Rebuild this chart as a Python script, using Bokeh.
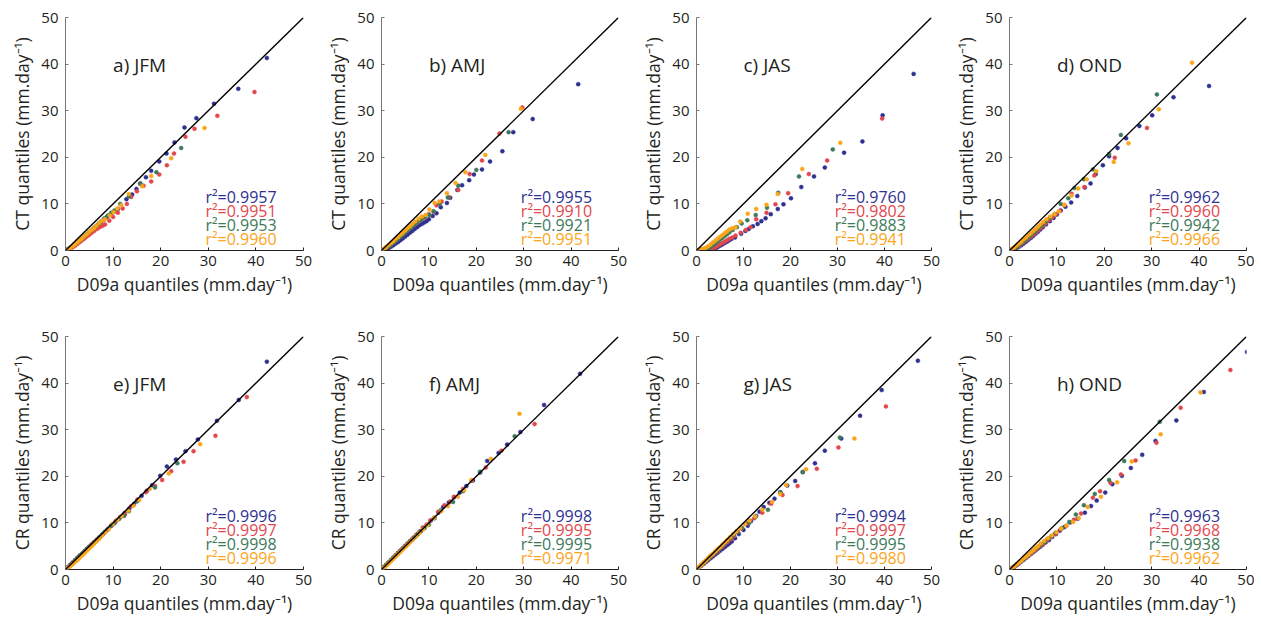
from bokeh.plotting import figure
from bokeh.layouts import row, column
from bokeh.models import Range1d, Slope, FixedTicker, ColumnDataSource
from bokeh.embed import file_html
from bokeh.resources import INLINE
from bokeh.core.properties import value

# ---------------- data ----------------
series_names = ["blue", "red", "green", "orange"]
series_colors = ["#2e3192", "#e2474d", "#3d7a5a", "#fba51b"]

panel_titles = ["a) JFM", "b) AMJ", "c) JAS", "d) OND", "e) JFM", "f) AMJ", "g) JAS", "h) OND"]
y_labels = ["CT quantiles (mm.day⁻¹)"] * 4 + ["CR quantiles (mm.day⁻¹)"] * 4
x_label = "D09a quantiles (mm.day⁻¹)"
tick_values = [0, 10, 20, 30, 40, 50]

r2_a = [0.9957, 0.9951, 0.9953, 0.9960]
r2_b = [0.9955, 0.9910, 0.9921, 0.9951]
r2_c = [0.9760, 0.9802, 0.9883, 0.9941]
r2_d = [0.9962, 0.9960, 0.9942, 0.9966]
r2_e = [0.9996, 0.9997, 0.9998, 0.9996]
r2_f = [0.9998, 0.9995, 0.9995, 0.9971]
r2_g = [0.9994, 0.9997, 0.9995, 0.9980]
r2_h = [0.9963, 0.9968, 0.9938, 0.9962]

# panel a (JFM, CT)
a_blue_x = [0, 0.5, 1, 1.5, 2, 2.5, 3, 3.5, 4, 4.5, 5, 5.5, 6, 6.5, 7, 7.5, 8, 8.7, 9.4, 10.2, 11.0, 12.8, 14.0, 14.9, 15.7, 16.9, 18.0, 19.7, 21.2, 22.9, 25.0, 27.5, 31.2, 36.3, 42.3]
a_blue_y = [0, 0.2, 0.5, 0.8, 1.2, 1.6, 2.0, 2.4, 2.9, 3.3, 3.7, 4.1, 4.6, 5.1, 5.6, 6.1, 6.6, 7.2, 7.7, 8.3, 8.9, 11.0, 12.0, 13.2, 14.4, 15.7, 17.1, 19.1, 20.8, 23.2, 26.4, 28.4, 31.5, 34.7, 41.3]
a_red_x = [0, 0.5, 1, 1.5, 2, 2.5, 3, 3.5, 4, 4.5, 5, 5.5, 6, 6.6, 7.2, 7.8, 8.3, 9.2, 10.0, 11.0, 12.0, 12.9, 13.8, 15.0, 16.4, 18.0, 19.7, 21.3, 22.8, 25.2, 27.1, 31.9, 39.7]
a_red_y = [0, 0.2, 0.4, 0.7, 1.0, 1.4, 1.8, 2.2, 2.6, 3.0, 3.4, 3.8, 4.2, 4.6, 5.0, 5.3, 5.6, 6.4, 7.2, 8.1, 9.0, 10.0, 11.5, 12.7, 13.9, 14.8, 16.3, 18.3, 20.8, 24.4, 26.1, 28.9, 34.0]
a_green_x = [0, 0.5, 1, 1.5, 2, 2.5, 3, 3.5, 4, 4.5, 5, 5.5, 6, 6.5, 7, 7.6, 8.2, 8.9, 9.6, 10.3, 11.5, 13.3, 15.7, 19.1, 24.3]
a_green_y = [0, 0.3, 0.6, 0.9, 1.3, 1.7, 2.2, 2.6, 3.1, 3.5, 4.0, 4.4, 4.9, 5.3, 5.8, 6.3, 6.9, 7.5, 8.1, 8.6, 10.0, 11.6, 14.3, 16.8, 22.0]
a_orange_x = [0, 0.3, 0.6, 1, 1.5, 2, 2.5, 3, 3.5, 4, 4.5, 5, 5.5, 6, 6.5, 7.1, 7.7, 8.3, 9.3, 10.1, 10.9, 11.7, 13.3, 16.1, 18.0, 22.2, 29.2]
a_orange_y = [0, 0.1, 0.3, 0.5, 0.9, 1.3, 1.7, 2.2, 2.6, 3.1, 3.5, 4.0, 4.4, 4.8, 5.3, 5.9, 6.4, 6.7, 7.5, 8.2, 9.0, 9.7, 12.1, 13.8, 16.0, 19.8, 26.3]

# panel b (AMJ, CT)
b_blue_x = [0, 0.5, 1, 1.5, 2, 2.5, 3, 3.5, 4, 4.5, 5, 5.5, 6, 6.5, 7, 7.5, 8, 8.5, 9, 9.5, 10, 10.8, 11.6, 12.5, 13.8, 14.5, 16.0, 17.0, 18.5, 19.5, 21.2, 22.9, 25.5, 27.8, 31.9, 41.5]
b_blue_y = [0, 0.1, 0.3, 0.5, 0.8, 1.1, 1.5, 1.8, 2.2, 2.6, 3.0, 3.4, 3.8, 4.2, 4.6, 5.0, 5.4, 5.7, 6.0, 6.3, 6.7, 7.4, 8.0, 9.3, 10.2, 11.3, 13.0, 14.0, 15.1, 16.3, 17.4, 19.1, 21.3, 25.4, 28.2, 35.7]
b_red_x = [0, 0.5, 1, 1.5, 2, 2.5, 3, 3.5, 4, 4.5, 5, 5.5, 6, 6.5, 7, 7.5, 8.2, 9, 10, 11, 11.6, 12.7, 14.2, 16.2, 18.6, 21.2, 24.9, 29.7]
b_red_y = [0, 0.2, 0.5, 0.9, 1.3, 1.7, 2.2, 2.6, 3.0, 3.5, 3.9, 4.3, 4.8, 5.2, 5.6, 6.0, 6.5, 7.0, 7.8, 8.3, 9.7, 10.5, 11.4, 13.0, 16.4, 19.3, 25.1, 30.7]
b_green_x = [0, 0.5, 1, 1.5, 2, 2.5, 3, 3.5, 4, 4.5, 5, 5.5, 6, 6.5, 7, 7.6, 8.4, 9.2, 10.1, 11, 12.3, 14, 16.2, 20, 26.8]
b_green_y = [0, 0.2, 0.5, 0.9, 1.3, 1.7, 2.1, 2.5, 3.0, 3.4, 3.9, 4.3, 4.7, 5.2, 5.6, 6.1, 6.6, 7.2, 7.6, 8.4, 10.0, 11.4, 13.9, 17.3, 25.4]
b_orange_x = [0, 0.3, 0.7, 1, 1.5, 2, 2.5, 3, 3.5, 4, 4.5, 5, 5.5, 6, 6.5, 7.1, 7.8, 8.5, 9.3, 10.1, 11.2, 12.2, 13.8, 15.6, 17.7, 21.9, 29.4]
b_orange_y = [0, 0.2, 0.5, 0.8, 1.2, 1.6, 2.0, 2.5, 2.9, 3.4, 3.8, 4.3, 4.8, 5.2, 5.7, 6.2, 6.8, 7.3, 7.6, 8.8, 10.2, 10.5, 12.3, 14.5, 16.8, 20.5, 30.4]

# panel c (JAS, CT)
c_blue_x = [0, 0.5, 1, 1.5, 2, 2.5, 3, 3.5, 4, 4.5, 5, 5.5, 6, 6.5, 7, 7.5, 8.2, 9.5, 10.4, 11.1, 12, 13, 13.8, 14.7, 15.8, 17.3, 18.5, 20.1, 22.3, 25.0, 27.3, 31.4, 35.3, 39.6, 46.2]
c_blue_y = [0, 0.1, 0.1, 0.2, 0.2, 0.3, 0.3, 0.4, 0.5, 0.7, 1.0, 1.3, 1.6, 1.9, 2.2, 2.5, 2.8, 3.6, 4.2, 4.6, 5.2, 5.7, 6.3, 6.9, 7.8, 8.9, 9.9, 11.2, 13.6, 15.9, 17.8, 21.0, 23.4, 29.0, 37.9]
c_red_x = [0, 1, 2, 3, 3.5, 4, 4.5, 5, 5.5, 6, 6.5, 7, 7.6, 8.3, 9.4, 10.5, 11.5, 12.7, 14.9, 16.8, 19.5, 23.9, 27.8, 39.5]
c_red_y = [0, 0.1, 0.2, 0.3, 0.5, 0.7, 1.0, 1.3, 1.6, 1.9, 2.2, 2.5, 2.8, 3.2, 3.8, 4.4, 5.0, 6.7, 8.1, 9.9, 12.3, 16.4, 19.3, 28.3]
c_green_x = [0, 1, 1.5, 2, 2.5, 3, 3.5, 4, 4.5, 5, 5.5, 6, 6.5, 7, 7.7, 8.6, 9.6, 10.8, 12.6, 15, 17.4, 21.8, 29.0]
c_green_y = [0, 0.1, 0.2, 0.3, 0.5, 0.8, 1.1, 1.5, 1.9, 2.3, 2.7, 3.1, 3.5, 3.9, 4.4, 5.0, 5.8, 6.5, 7.6, 9.2, 12.4, 15.9, 21.7]
c_orange_x = [0, 0.5, 1, 1.5, 2, 2.5, 3, 3.5, 4, 4.5, 5, 5.5, 6, 6.5, 7, 7.6, 8.3, 9.3, 10.9, 12.7, 14.9, 17.3, 22.5, 30.6]
c_orange_y = [0, 0.1, 0.2, 0.4, 0.6, 0.9, 1.3, 1.7, 2.1, 2.5, 2.9, 3.3, 3.7, 4.1, 4.5, 4.8, 5.0, 6.2, 7.9, 8.9, 9.8, 12.1, 17.5, 23.1]

# panel d (OND, CT)
d_blue_x = [0, 0.5, 1, 1.5, 2, 2.5, 3, 3.5, 4, 4.5, 5, 5.5, 6, 6.5, 7, 7.7, 8.5, 9.3, 10, 10.8, 11.8, 13, 14.3, 15.9, 17.1, 18.2, 19.7, 21.0, 22.8, 24.6, 27.4, 30.1, 34.6, 42.1]
d_blue_y = [0, 0.1, 0.3, 0.5, 0.8, 1.1, 1.5, 1.9, 2.3, 2.7, 3.1, 3.6, 4.0, 4.5, 5.0, 5.6, 6.3, 7.0, 7.7, 8.6, 9.4, 10.3, 11.7, 13.5, 14.4, 16.4, 18.3, 20.2, 22.0, 24.1, 26.7, 29.0, 32.9, 35.3]
d_red_x = [0, 0.5, 1, 1.5, 2, 2.5, 3, 3.5, 4, 4.5, 5, 5.5, 6, 6.5, 7, 7.6, 8.3, 9, 9.8, 10.6, 11.6, 13.1, 15.8, 17.9, 22.2, 29.0]
d_red_y = [0, 0.2, 0.4, 0.7, 1.0, 1.4, 1.8, 2.2, 2.6, 3.0, 3.4, 3.9, 4.3, 4.8, 5.3, 5.8, 6.5, 7.1, 7.8, 8.5, 9.7, 12.2, 13.6, 16.1, 19.9, 26.3]
d_green_x = [0, 0.5, 1, 1.5, 2, 2.5, 3, 3.5, 4, 4.5, 5, 5.5, 6, 6.5, 7, 7.7, 8.5, 9.5, 10.8, 12.4, 13.7, 15.7, 17.6, 21.0, 23.5, 31.1]
d_green_y = [0, 0.2, 0.5, 0.8, 1.2, 1.6, 2.0, 2.4, 2.9, 3.3, 3.8, 4.2, 4.7, 5.2, 5.6, 6.3, 7.0, 7.8, 10.0, 11.2, 13.4, 15.3, 17.4, 20.7, 24.8, 33.5]
d_orange_x = [0, 0.3, 0.6, 1, 1.5, 2, 2.5, 3, 3.5, 4, 4.5, 5, 5.5, 6, 6.5, 7.1, 7.8, 8.6, 9.5, 10.4, 11.6, 13.1, 14.5, 16.3, 18.3, 22.0, 25.1, 31.5, 38.5]
d_orange_y = [0, 0.2, 0.4, 0.7, 1.1, 1.5, 1.9, 2.4, 2.8, 3.3, 3.7, 4.2, 4.6, 5.1, 5.6, 6.1, 6.7, 7.3, 7.8, 8.4, 9.8, 11.8, 13.3, 15.3, 17.0, 19.0, 23.0, 30.3, 40.3]

# panel e (JFM, CR)
e_blue_x = [0, 0.5, 1, 1.5, 2, 2.5, 3, 3.5, 4, 4.5, 5, 5.5, 6, 6.5, 7, 7.6, 8.3, 9, 9.8, 10.6, 11.5, 12.4, 13.4, 14.4, 15.2, 16.0, 17.1, 18.2, 19.9, 21.3, 23.2, 25.2, 27.8, 31.8, 36.4, 42.3]
e_blue_y = [0, 0.5, 1.0, 1.5, 2.0, 2.5, 3.0, 3.4, 3.9, 4.4, 4.9, 5.3, 5.8, 6.3, 6.8, 7.4, 8.1, 8.8, 9.6, 10.4, 11.2, 12.1, 13.1, 14.1, 14.8, 15.8, 16.9, 18.1, 20.1, 22.1, 23.6, 25.4, 27.9, 31.9, 36.4, 44.6]
e_red_x = [0, 0.5, 1, 1.5, 2, 2.5, 3, 3.5, 4, 4.5, 5, 5.5, 6, 6.6, 7.3, 8, 8.8, 9.6, 10.5, 11.5, 12.5, 13.8, 15.1, 16.9, 18.8, 20.3, 22.2, 24.8, 26.9, 31.5, 38.1]
e_red_y = [0, 0.4, 0.9, 1.4, 1.9, 2.4, 2.9, 3.4, 3.9, 4.4, 4.9, 5.4, 5.9, 6.4, 7.0, 7.7, 8.5, 9.4, 10.3, 11.2, 11.8, 13.6, 15.0, 16.6, 17.9, 19.2, 21.1, 23.1, 25.4, 28.7, 37.0]
e_green_x = [0, 0.5, 1, 1.5, 2, 2.5, 3, 3.5, 4, 4.5, 5, 5.5, 6, 6.6, 7.2, 7.9, 8.7, 9.5, 10.3, 11.2, 12.3, 13.3, 15.0, 18.8, 23.5]
e_green_y = [0, 0.4, 0.9, 1.4, 1.9, 2.4, 2.9, 3.4, 3.9, 4.4, 4.8, 5.3, 5.8, 6.4, 7.0, 7.7, 8.5, 9.3, 9.9, 10.8, 11.5, 12.5, 14.6, 17.6, 22.8]
e_orange_x = [0, 0.3, 0.6, 1, 1.5, 2, 2.5, 3, 3.5, 4, 4.5, 5, 5.5, 6, 6.5, 7.1, 7.7, 8.4, 9.1, 9.9, 10.9, 11.8, 13.2, 14.3, 15.5, 17.7, 21.7, 28.3]
e_orange_y = [0, 0.2, 0.4, 0.7, 1.1, 1.6, 2.0, 2.5, 3.0, 3.5, 4.0, 4.5, 5.0, 5.5, 6.0, 6.6, 7.3, 8.0, 8.7, 9.8, 10.7, 11.5, 12.6, 13.7, 14.9, 17.3, 20.6, 26.9]

# panel f (AMJ, CR)
f_blue_x = [0, 0.5, 1, 1.5, 2, 2.5, 3, 3.5, 4, 4.5, 5, 5.5, 6, 6.5, 7, 7.6, 8.2, 8.9, 9.6, 10.4, 11.1, 12.0, 13.0, 14.2, 15.3, 16.5, 17.9, 19.3, 20.8, 22.3, 24.7, 26.5, 29.3, 34.3, 41.9]
f_blue_y = [0, 0.5, 1.0, 1.5, 2.0, 2.5, 3.0, 3.5, 4.0, 4.5, 5.0, 5.5, 6.0, 6.5, 7.0, 7.6, 8.2, 8.9, 9.6, 10.5, 11.1, 12.2, 13.4, 14.4, 15.5, 16.5, 17.9, 19.1, 20.8, 23.3, 25.0, 26.8, 29.5, 35.3, 42.0]
f_red_x = [0, 0.5, 1, 1.5, 2, 2.5, 3, 3.5, 4, 4.5, 5, 5.5, 6, 6.6, 7.3, 8.0, 8.7, 9.5, 10.3, 12.0, 13.3, 14.5, 15.3, 17.2, 19.0, 22.0, 25.3, 32.3]
f_red_y = [0, 0.5, 1.0, 1.5, 2.0, 2.6, 3.1, 3.6, 4.1, 4.6, 5.1, 5.6, 6.1, 6.7, 7.4, 8.1, 9.0, 9.6, 10.5, 12.4, 13.8, 14.6, 15.6, 17.3, 19.1, 21.9, 25.5, 31.2]
f_green_x = [0, 0.5, 1, 1.5, 2, 2.5, 3, 3.5, 4, 4.5, 5, 5.5, 6, 6.5, 7, 7.6, 8.3, 9.1, 10.0, 11.2, 12.5, 15.1, 17.2, 20.8, 28.1]
f_green_y = [0, 0.5, 1.0, 1.5, 2.0, 2.5, 3.0, 3.5, 4.0, 4.5, 5.0, 5.5, 6.0, 6.4, 6.9, 7.5, 8.2, 8.9, 9.6, 11.0, 12.7, 14.5, 16.8, 21.0, 28.6]
f_orange_x = [0, 0.4, 0.8, 1.2, 1.6, 2, 2.5, 3, 3.5, 4, 4.5, 5, 5.5, 6, 6.6, 7.3, 8.0, 8.8, 9.7, 11.1, 12.6, 14.0, 16.1, 17.4, 19.0, 23.1, 29.1]
f_orange_y = [0, 0.3, 0.6, 1.0, 1.4, 1.8, 2.3, 2.8, 3.3, 3.8, 4.3, 4.8, 5.3, 5.8, 6.4, 7.1, 7.8, 8.6, 9.5, 11.1, 12.5, 13.6, 15.6, 17.0, 19.2, 23.7, 33.4]

# panel g (JAS, CR)
g_blue_x = [0, 0.5, 1, 1.5, 2, 2.5, 3, 3.5, 4, 4.5, 5, 5.5, 6, 6.5, 7, 7.5, 8.2, 9, 10, 10.9, 11.6, 12.7, 13.4, 14.3, 15.5, 16.6, 17.8, 19.3, 21.0, 22.6, 25.2, 27.3, 30.8, 34.8, 39.4, 47.1]
g_blue_y = [0, 0.4, 0.8, 1.2, 1.6, 2.0, 2.4, 2.8, 3.2, 3.6, 4.0, 4.4, 4.8, 5.2, 5.6, 6.0, 6.7, 7.6, 8.5, 9.4, 10.4, 11.5, 12.4, 13.4, 14.3, 15.2, 16.6, 18.0, 19.0, 20.9, 22.8, 25.5, 28.1, 33.0, 38.5, 44.8]
g_red_x = [0, 0.5, 1, 1.5, 2, 2.5, 3, 3.5, 4, 4.5, 5, 5.5, 6, 6.6, 7.3, 8, 8.8, 9.6, 10.8, 12.3, 14.0, 15.9, 18.3, 21.5, 25.6, 30.2, 40.3]
g_red_y = [0, 0.4, 0.9, 1.3, 1.8, 2.2, 2.7, 3.1, 3.6, 4.0, 4.5, 4.9, 5.4, 5.9, 6.5, 7.2, 8.1, 8.8, 9.9, 11.0, 12.2, 14.1, 16.0, 17.9, 21.6, 26.2, 35.0]
g_green_x = [0, 0.5, 1, 1.5, 2, 2.5, 3, 3.5, 4, 4.5, 5, 5.5, 6, 6.6, 7.2, 7.9, 8.7, 9.7, 11.2, 12.5, 15.2, 17.9, 22.6, 30.5]
g_green_y = [0, 0.4, 0.9, 1.4, 1.8, 2.3, 2.8, 3.2, 3.7, 4.2, 4.6, 5.1, 5.6, 6.2, 6.8, 7.4, 8.1, 8.9, 10.0, 11.3, 12.8, 16.5, 20.9, 28.3]
g_orange_x = [0, 0.4, 0.8, 1.2, 1.6, 2, 2.5, 3, 3.5, 4, 4.5, 5, 5.5, 6, 6.5, 7.1, 7.8, 8.5, 9.3, 10.3, 11.3, 12.5, 14.0, 16.1, 17.8, 19.1, 23.3, 33.6]
g_orange_y = [0, 0.4, 0.8, 1.2, 1.6, 2.0, 2.5, 3.0, 3.4, 3.9, 4.4, 4.8, 5.3, 5.8, 6.3, 6.9, 7.6, 8.2, 8.9, 9.7, 10.5, 11.4, 12.8, 14.5, 16.2, 18.1, 21.5, 28.1]

# panel h (OND, CR)
h_blue_x = [0, 0.5, 1, 1.5, 2, 2.5, 3, 3.5, 4, 4.5, 5, 5.5, 6, 6.5, 7, 7.6, 8.3, 9, 9.8, 10.6, 11.6, 12.8, 14.4, 15.9, 17.2, 18.4, 20.2, 21.7, 23.7, 25.6, 28.0, 30.8, 35.2, 41.0, 50.1]
h_blue_y = [0, 0.3, 0.6, 0.9, 1.3, 1.7, 2.1, 2.5, 2.9, 3.3, 3.7, 4.1, 4.5, 4.9, 5.3, 5.8, 6.3, 7.0, 7.6, 8.3, 9.1, 10.1, 10.9, 12.2, 13.6, 14.8, 16.5, 18.3, 20.1, 21.8, 24.6, 27.6, 32.0, 38.1, 46.7]
h_red_x = [0, 0.5, 1, 1.5, 2, 2.5, 3, 3.5, 4, 4.5, 5, 5.5, 6, 6.6, 7.2, 7.9, 8.7, 9.6, 10.8, 12.0, 13.6, 15.1, 17.6, 19.1, 21.3, 23.5, 26.6, 31.0, 36.1, 46.6]
h_red_y = [0, 0.3, 0.6, 1.0, 1.4, 1.8, 2.2, 2.6, 3.0, 3.4, 3.8, 4.2, 4.6, 5.1, 5.6, 6.2, 6.9, 7.6, 8.6, 9.4, 10.7, 12.0, 15.4, 16.8, 18.6, 20.4, 23.4, 27.2, 34.7, 42.8]
h_green_x = [0, 0.5, 1, 1.5, 2, 2.5, 3, 3.5, 4, 4.5, 5, 5.5, 6, 6.6, 7.3, 8.0, 8.8, 9.7, 11.1, 12.6, 14.0, 15.7, 18.0, 21.0, 24.2, 31.7]
h_green_y = [0, 0.3, 0.7, 1.1, 1.5, 1.9, 2.3, 2.7, 3.1, 3.6, 4.0, 4.4, 4.8, 5.3, 5.9, 6.5, 7.1, 7.9, 8.9, 10.2, 11.8, 13.8, 16.2, 19.2, 23.3, 31.7]
h_orange_x = [0, 0.3, 0.6, 1, 1.5, 2, 2.5, 3, 3.5, 4, 4.5, 5, 5.5, 6, 6.6, 7.3, 8.1, 8.9, 9.9, 10.9, 12.0, 13.4, 14.6, 16.5, 19.3, 22.7, 25.8, 31.9, 40.3]
h_orange_y = [0, 0.2, 0.4, 0.7, 1.1, 1.5, 1.9, 2.4, 2.8, 3.2, 3.7, 4.1, 4.6, 5.0, 5.6, 6.1, 6.7, 7.3, 8.0, 8.8, 9.4, 10.2, 11.0, 13.4, 15.6, 18.7, 23.2, 29.0, 38.0]

panels = [
    ([(a_blue_x, a_blue_y), (a_red_x, a_red_y), (a_green_x, a_green_y), (a_orange_x, a_orange_y)], r2_a),
    ([(b_blue_x, b_blue_y), (b_red_x, b_red_y), (b_green_x, b_green_y), (b_orange_x, b_orange_y)], r2_b),
    ([(c_blue_x, c_blue_y), (c_red_x, c_red_y), (c_green_x, c_green_y), (c_orange_x, c_orange_y)], r2_c),
    ([(d_blue_x, d_blue_y), (d_red_x, d_red_y), (d_green_x, d_green_y), (d_orange_x, d_orange_y)], r2_d),
    ([(e_blue_x, e_blue_y), (e_red_x, e_red_y), (e_green_x, e_green_y), (e_orange_x, e_orange_y)], r2_e),
    ([(f_blue_x, f_blue_y), (f_red_x, f_red_y), (f_green_x, f_green_y), (f_orange_x, f_orange_y)], r2_f),
    ([(g_blue_x, g_blue_y), (g_red_x, g_red_y), (g_green_x, g_green_y), (g_orange_x, g_orange_y)], r2_g),
    ([(h_blue_x, h_blue_y), (h_red_x, h_red_y), (h_green_x, h_green_y), (h_orange_x, h_orange_y)], r2_h),
]

# ---------------- styling ----------------
FONT = "Open Sans"
TEXT_COLOR = "#231f20"

# per-column borders: (left border, right border)
col_borders = [(65, 20), (57, 20), (55, 20), (57, 8)]
FRAME_W = 238
FRAME_H = 233
BOTTOM_AXIS = 49
row_top = [17, 37]


def make_panel(i):
    series, r2 = panels[i]
    r, c = divmod(i, 4)
    left, right = col_borders[c]
    width = left + FRAME_W + right
    height = row_top[r] + FRAME_H + BOTTOM_AXIS
    p = figure(width=width, height=height, output_backend="svg", toolbar_location=None,
               x_range=Range1d(0, 50), y_range=Range1d(0, 50),
               min_border_left=left, min_border_right=right,
               min_border_top=row_top[r], min_border_bottom=BOTTOM_AXIS)
    p.outline_line_color = None
    p.grid.visible = False
    p.background_fill_color = "white"
    p.border_fill_color = "white"

    for ax in (p.xaxis[0], p.yaxis[0]):
        ax.ticker = FixedTicker(ticks=tick_values)
        ax.major_tick_in = 3
        ax.major_tick_out = 0
        ax.minor_tick_line_color = None
        ax.major_label_text_font = FONT
        ax.major_label_text_font_size = "15px"
        ax.major_label_text_color = TEXT_COLOR
        ax.axis_label_text_font = FONT
        ax.axis_label_text_font_size = "17.5px"
        ax.axis_label_text_font_style = "normal"
        ax.axis_label_text_color = TEXT_COLOR
        ax.axis_line_width = 1
    p.xaxis.axis_line_color = "#231f20"
    p.xaxis.major_tick_line_color = "#231f20"
    p.yaxis.axis_line_color = "#777777"
    p.yaxis.major_tick_line_color = "#777777"
    p.xaxis.axis_label = x_label
    p.yaxis.axis_label = y_labels[i]
    p.xaxis.major_label_standoff = 5
    p.yaxis.major_label_standoff = 7
    p.xaxis.axis_label_standoff = 3
    p.yaxis.axis_label_standoff = 4

    # 1:1 reference line
    p.add_layout(Slope(gradient=1, y_intercept=0, line_color="black", line_width=1.4))

    for (xs, ys), col in zip(series, series_colors):
        p.scatter(xs, ys, size=4, fill_color=col, line_color=col, line_width=0.5)

    # panel title
    p.text(x=[10.0], y=[39.7], text=[panel_titles[i]], text_font=value(FONT),
           text_font_size="19px", text_color=TEXT_COLOR, text_baseline="middle",
           text_align="left")

    # r^2 annotations
    src = ColumnDataSource(dict(
        x=[29.4] * 4,
        y=[11.4, 8.4, 5.4, 2.4],
        t=["r²={:.4f}".format(v) for v in r2],
        c=series_colors,
    ))
    p.text(x="x", y="y", text="t", text_color="c", source=src, text_font=value(FONT),
           text_font_size="16px", text_baseline="middle", text_align="left")
    return p


figs = [make_panel(i) for i in range(8)]
layout = column(row(*figs[:4]), row(*figs[4:]))

open("out.html", "w").write(file_html(layout, INLINE))
